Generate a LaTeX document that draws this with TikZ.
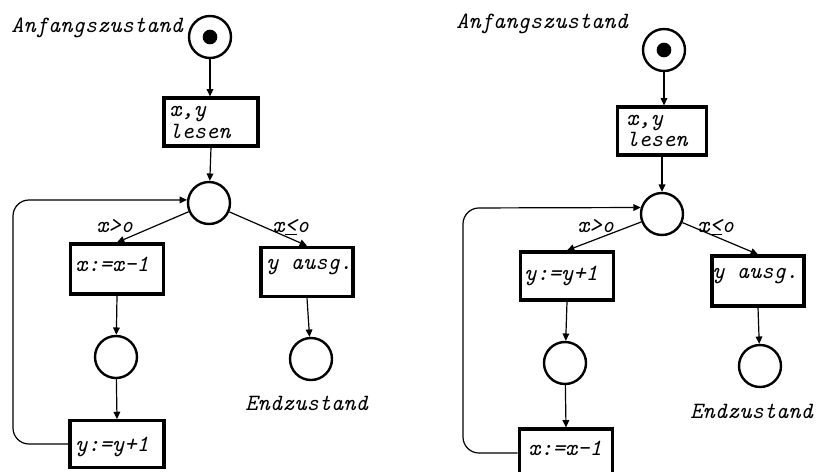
\documentclass[tikz,border=0pt]{standalone}
\usepackage{fontspec}
\usetikzlibrary{arrows.meta}
\newcommand\twfont{\fontsize{17.5}{20}\selectfont\ttfamily\itshape}
\begin{document}
\begin{tikzpicture}[x=0.75pt,y=-0.75pt,
  place/.style={circle,draw,line width=1.8pt,minimum size=31.5pt,inner sep=0pt},
  trans/.style={draw,line width=2.4pt,inner sep=0pt},
  txt/.style={font=\twfont,inner sep=0pt,anchor=base west},
  arr/.style={line width=0.9pt,-{Triangle[length=5.5pt,width=5pt]}}]
\useasboundingbox (0,0) rectangle (816,471);

% ---------- left net ----------
\node[place] (A1) at (210,37) {};
\fill (A1) circle (5.5pt);
\node[trans,minimum width=70.5pt,minimum height=36pt] (L1) at (211,122) {};
\node[place] (M1) at (209,203) {};
\node[trans,minimum width=70pt,minimum height=37.5pt] (X1) at (117,269) {};
\node[trans,minimum width=69pt,minimum height=37pt] (Y1) at (307,272) {};
\node[place] (P1) at (116,357) {};
\node[place] (E1) at (311,359) {};
\node[trans,minimum width=70.5pt,minimum height=35pt] (Z1) at (117,444) {};

\node[txt] (tA1) at (11,32) {Anfangszustand};
\node[txt] (tL1a) at (169,116) {x,y};
\node[txt] (tL1b) at (169,138) {lesen};
\node[txt] (tX1) at (75,271) {x:=x-1};
\node[txt] (tY1) at (266,269) {y ausg.};
\node[txt] (tZ1) at (75,451) {y:=y+1};
\node[txt] (tE1) at (245,410) {Endzustand};
\node[txt] (g1) at (96,232) {x>o};
\node[txt] (h1) at (272,232) {x\underline{<}o};

\draw[arr] (A1) -- (A1 |- L1.north);
\draw[arr] (L1.south) -- (M1);
\draw[arr] (M1) -- (X1.north);
\draw[arr] (M1) -- (Y1.north);
\draw[arr] (X1.south) -- (P1);
\draw[arr] (P1) -- (Z1.north);
\draw[arr] (Y1.south) -- (E1);
\draw[arr,rounded corners=12pt] (Z1.west) -- (13,444) -- (13,200) -- (M1.172);

% ---------- right net ----------
\node[place] (A2) at (664,50) {};
\fill (A2) circle (5.5pt);
\node[trans,minimum width=67pt,minimum height=36pt] (L2) at (662,131) {};
\node[place] (M2) at (662,214) {};
\node[trans,minimum width=70pt,minimum height=36pt] (X2) at (567,276) {};
\node[trans,minimum width=69pt,minimum height=37.5pt] (Y2) at (758,281) {};
\node[place] (P2) at (565,363) {};
\node[place] (E2) at (760,366) {};
\node[trans,minimum width=70pt,minimum height=36pt] (Z2) at (566,453) {};

\node[txt] (tA2) at (456,28) {Anfangszustand};
\node[txt] (tL2a) at (626,125) {x,y};
\node[txt] (tL2b) at (626,146) {lesen};
\node[txt] (tX2) at (524,280) {y:=y+1};
\node[txt] (tY2) at (712,278) {y ausg.};
\node[txt] (tZ2) at (528,455) {x:=x-1};
\node[txt] (tE2) at (690,418) {Endzustand};
\node[txt] (g2) at (577,232) {x>o};
\node[txt] (h2) at (697,232) {x\underline{<}o};

\draw[arr] (A2) -- (A2 |- L2.north);
\draw[arr] (L2.south) -- (M2);
\draw[arr] (M2) -- (X2.north);
\draw[arr] (M2) -- (Y2.north);
\draw[arr] (X2.south) -- (P2);
\draw[arr] (P2) -- (Z2.north);
\draw[arr] (Y2.south) -- (E2);
\draw[arr,rounded corners=12pt] (Z2.west) -- (463,453) -- (463,208) -- (M2.163);
\end{tikzpicture}
\end{document}
